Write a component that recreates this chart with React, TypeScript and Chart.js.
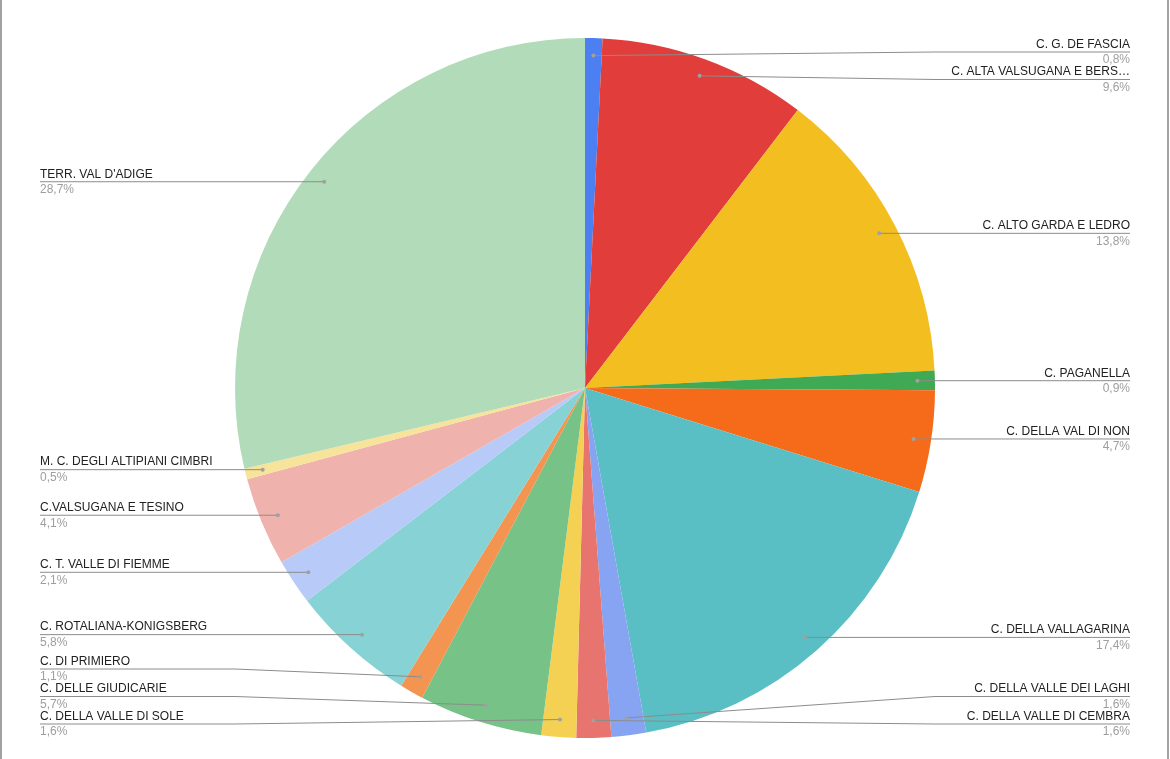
import React, { useEffect, useRef } from "react";
import { Chart, registerables } from "chart.js";

Chart.register(...registerables);

const categories = [
  "C. G. DE FASCIA",
  "C. ALTA VALSUGANA E BERS…",
  "C. ALTO GARDA E LEDRO",
  "C. PAGANELLA",
  "C. DELLA VAL DI NON",
  "C. DELLA VALLAGARINA",
  "C. DELLA VALLE DEI LAGHI",
  "C. DELLA VALLE DI CEMBRA",
  "C. DELLA VALLE DI SOLE",
  "C. DELLE GIUDICARIE",
  "C. DI PRIMIERO",
  "C. ROTALIANA-KONIGSBERG",
  "C. T. VALLE DI FIEMME",
  "C.VALSUGANA E TESINO",
  "M. C. DEGLI ALTIPIANI CIMBRI",
  "TERR. VAL D'ADIGE",
];

const values = [0.8, 9.6, 13.8, 0.9, 4.7, 17.4, 1.6, 1.6, 1.6, 5.7, 1.1, 5.8, 2.1, 4.1, 0.5, 28.7];

const colors = [
  "#4b7ff2",
  "#e13d3a",
  "#f3be20",
  "#3fa954",
  "#f56b1a",
  "#5abfc4",
  "#86a4f2",
  "#e8746f",
  "#f5d153",
  "#76c287",
  "#f39450",
  "#87d2d5",
  "#b7caf8",
  "#f0b2ac",
  "#f8e39b",
  "#b2dcb9",
];

const FONT = '"Liberation Sans", Arial, Helvetica, sans-serif';

type Item = { i: number; dx: number; dy: number; ly: number };

function spread(list: Item[], minY: number, maxY: number, gap: number) {
  list.sort((a, b) => a.dy - b.dy);
  const clusters = list.map((it) => ({ items: [it], start: 0 }));
  const place = (c: { items: Item[]; start: number }) => {
    const n = c.items.length;
    const mean = c.items.reduce((s, it) => s + it.dy, 0) / n;
    let start = mean - ((n - 1) * gap) / 2;
    start = Math.max(minY, Math.min(start, maxY - (n - 1) * gap));
    c.start = start;
  };
  clusters.forEach(place);
  let merged = true;
  while (merged) {
    merged = false;
    for (let k = 0; k < clusters.length - 1; k++) {
      const a = clusters[k];
      const b = clusters[k + 1];
      const aEnd = a.start + (a.items.length - 1) * gap;
      if (b.start - aEnd < gap - 1e-6) {
        a.items = a.items.concat(b.items);
        clusters.splice(k + 1, 1);
        place(a);
        merged = true;
        break;
      }
    }
  }
  clusters.forEach((c) => c.items.forEach((it, j) => (it.ly = c.start + j * gap)));
}

const labelPlugin = {
  id: "outLabels",
  afterDraw(chart: any) {
    const ctx = chart.ctx as CanvasRenderingContext2D;
    const meta = chart.getDatasetMeta(0);
    const area = chart.chartArea;
    const data = chart.data.datasets[0].data as number[];
    const total = data.reduce((s, v) => s + v, 0);
    const left: Item[] = [];
    const right: Item[] = [];
    let cx = 0,
      R = 0;
    meta.data.forEach((arc: any, i: number) => {
      const p = arc.getProps(["x", "y", "startAngle", "endAngle", "outerRadius"], true);
      cx = p.x;
      R = p.outerRadius;
      const mid = (p.startAngle + p.endAngle) / 2;
      const r = p.outerRadius * 0.95;
      const it: Item = { i, dx: p.x + Math.cos(mid) * r, dy: p.y + Math.sin(mid) * r, ly: 0 };
      if (it.dx >= p.x) right.push(it);
      else left.push(it);
    });
    const gap = 27.5;
    const minY = area.top + 10;
    const maxY = area.bottom - 14;
    spread(left, minY, maxY, gap);
    spread(right, minY, maxY, gap);

    const leftX = 40;
    const rightX = 1130;

    const draw = (it: Item, isRight: boolean) => {
      const name = chart.data.labels[it.i];
      const pct = ((data[it.i] / total) * 100).toFixed(1).replace(".", ",") + "%";
      ctx.save();
      ctx.strokeStyle = "#8c8c8c";
      ctx.lineWidth = 1;
      ctx.beginPath();
      const edgeX = isRight ? rightX : leftX;
      const kinkX = isRight ? cx + R : cx - R;
      ctx.moveTo(edgeX, it.ly);
      ctx.lineTo(kinkX, it.ly);
      ctx.lineTo(it.dx, it.dy);
      ctx.stroke();
      ctx.fillStyle = "#a0a0a0";
      ctx.beginPath();
      ctx.arc(it.dx, it.dy, 2, 0, Math.PI * 2);
      ctx.fill();
      ctx.textAlign = isRight ? "right" : "left";
      ctx.textBaseline = "middle";
      ctx.font = "12px " + FONT;
      ctx.fillStyle = "#222222";
      ctx.fillText(name, edgeX, it.ly - 7.5);
      ctx.fillStyle = "#9e9e9e";
      ctx.fillText(pct, edgeX, it.ly + 8);
      ctx.restore();
    };
    left.forEach((it) => draw(it, false));
    right.forEach((it) => draw(it, true));
  },
};

export default function App() {
  const ref = useRef<HTMLCanvasElement | null>(null);
  useEffect(() => {
    document.body.style.margin = "0";
    const canvas = ref.current!;
    const chart = new Chart(canvas, {
      type: "pie",
      data: {
        labels: categories,
        datasets: [
          {
            data: values,
            backgroundColor: colors,
            borderWidth: 0,
          },
        ],
      },
      options: {
        animation: false,
        responsive: false,
        maintainAspectRatio: false,
        layout: { padding: { left: 235, right: 235, top: 38, bottom: 21 } },
        plugins: {
          legend: { display: false },
          tooltip: { enabled: false },
        },
      },
      plugins: [labelPlugin],
    });
    return () => chart.destroy();
  }, []);
  return (
    <div style={{ position: "absolute", left: 0, top: 0, width: 1170, height: 759, background: "#fff" }}>
      <canvas ref={ref} width={1170} height={759} style={{ position: "absolute", left: 0, top: 0 }} />
      <div
        style={{
          position: "absolute",
          left: 0,
          top: 0,
          width: 1169,
          height: 759,
          boxSizing: "border-box",
          borderLeft: "2px solid #a2a2a2",
          borderRight: "2px solid #a2a2a2",
          pointerEvents: "none",
        }}
      />
    </div>
  );
}
